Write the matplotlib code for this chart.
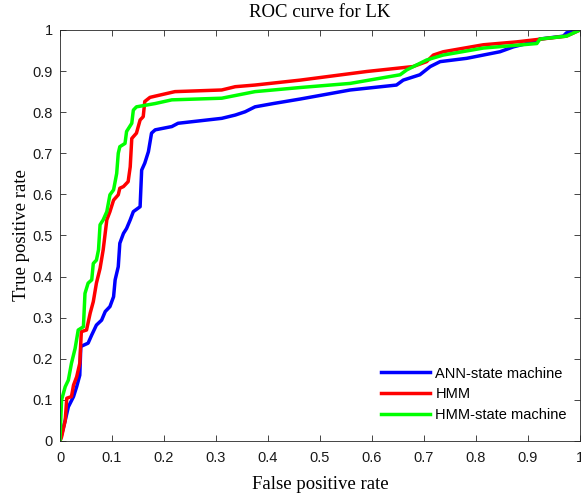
import matplotlib.pyplot as plt

# ROC points (false positive rate, true positive rate)
ann_fpr = [0, 0.003, 0.01, 0.016, 0.026, 0.032, 0.038, 0.040, 0.054, 0.061, 0.070, 0.080,
           0.087, 0.096, 0.103, 0.106, 0.112, 0.115, 0.122, 0.128, 0.135, 0.141, 0.154,
           0.157, 0.163, 0.170, 0.176, 0.183, 0.215, 0.227, 0.311, 0.337, 0.356, 0.375,
           0.41, 0.462, 0.558, 0.647, 0.660, 0.692, 0.712, 0.731, 0.782, 0.846, 0.872,
           0.910, 0.923, 0.968, 0.974, 1.0]
ann_tpr = [0, 0.015, 0.05, 0.083, 0.108, 0.132, 0.16, 0.23, 0.238, 0.258, 0.282, 0.294,
           0.315, 0.327, 0.351, 0.392, 0.424, 0.481, 0.505, 0.517, 0.538, 0.558, 0.570,
           0.659, 0.676, 0.704, 0.749, 0.757, 0.765, 0.773, 0.785, 0.793, 0.801, 0.813,
           0.821, 0.832, 0.854, 0.866, 0.878, 0.891, 0.911, 0.923, 0.931, 0.947, 0.959,
           0.971, 0.978, 0.985, 0.993, 1.0]

hmm_fpr = [0, 0.003, 0.01, 0.013, 0.022, 0.026, 0.032, 0.038, 0.041, 0.051, 0.058, 0.064,
           0.070, 0.077, 0.083, 0.090, 0.096, 0.103, 0.112, 0.115, 0.122, 0.131, 0.135,
           0.138, 0.147, 0.154, 0.160, 0.163, 0.173, 0.183, 0.221, 0.311, 0.337, 0.375,
           0.462, 0.59, 0.679, 0.705, 0.718, 0.737, 0.814, 0.878, 0.974, 1.0]
hmm_tpr = [0, 0.01, 0.05, 0.104, 0.108, 0.136, 0.156, 0.189, 0.266, 0.270, 0.311, 0.339,
           0.384, 0.420, 0.465, 0.538, 0.558, 0.586, 0.599, 0.615, 0.619, 0.631, 0.667,
           0.736, 0.749, 0.781, 0.789, 0.826, 0.836, 0.839, 0.850, 0.854, 0.862, 0.866,
           0.878, 0.899, 0.911, 0.923, 0.939, 0.947, 0.964, 0.971, 0.985, 1.0]

hsm_fpr = [0, 0.0, 0.003, 0.01, 0.016, 0.022, 0.029, 0.035, 0.045, 0.048, 0.054, 0.061,
           0.064, 0.070, 0.074, 0.077, 0.083, 0.090, 0.096, 0.103, 0.109, 0.112, 0.115,
           0.125, 0.128, 0.138, 0.141, 0.147, 0.183, 0.215, 0.311, 0.343, 0.375, 0.462,
           0.558, 0.654, 0.667, 0.705, 0.737, 0.814, 0.917, 0.923, 0.974, 1.0]
hsm_tpr = [0, 0.007, 0.10, 0.132, 0.148, 0.189, 0.225, 0.270, 0.278, 0.359, 0.384, 0.392,
           0.432, 0.440, 0.465, 0.526, 0.538, 0.558, 0.599, 0.611, 0.651, 0.700, 0.716,
           0.724, 0.753, 0.773, 0.805, 0.813, 0.821, 0.830, 0.834, 0.842, 0.850, 0.860,
           0.870, 0.891, 0.903, 0.927, 0.939, 0.956, 0.967, 0.978, 0.985, 1.0]

ticks = [0, 0.1, 0.2, 0.3, 0.4, 0.5, 0.6, 0.7, 0.8, 0.9, 1]
tick_labels = ['0', '0.1', '0.2', '0.3', '0.4', '0.5', '0.6', '0.7', '0.8', '0.9', '1']

fig = plt.figure(figsize=(5.81, 4.93), dpi=100)
ax = fig.add_axes([0.1033, 0.1055, 0.895, 0.8337])

ax.plot(ann_fpr, ann_tpr, color=(0, 0, 1), lw=2.5, label='ANN-state machine')
ax.plot(hmm_fpr, hmm_tpr, color=(1, 0, 0), lw=2.5, label='HMM')
ax.plot(hsm_fpr, hsm_tpr, color=(0, 1, 0), lw=2.5, label='HMM-state machine')

ax.set_xlim(0, 1)
ax.set_ylim(0, 1)
ax.set_xticks(ticks)
ax.set_xticklabels(tick_labels)
ax.set_yticks(ticks)
ax.set_yticklabels(tick_labels)
for lab in ax.get_xticklabels() + ax.get_yticklabels():
    lab.set_family('Liberation Sans')
ax.tick_params(direction='in', top=True, right=True, length=4, width=0.6,
               colors='#262626', labelsize=10.5, labelcolor='#1a1a1a')
ax.tick_params(axis='x', pad=7)
ax.tick_params(axis='y', pad=5)
for sp in ax.spines.values():
    sp.set_color('#262626')
    sp.set_linewidth(0.6)

ax.set_title('ROC curve for LK', family='Liberation Serif', fontsize=13.5, pad=9)
ax.set_xlabel('False positive rate', family='Liberation Serif', fontsize=13.5, labelpad=8)
ax.set_ylabel('True positive rate', family='Liberation Serif', fontsize=13.5, labelpad=2)

ax.legend(loc='lower right', frameon=False, prop={'family': 'Liberation Sans', 'size': 10.5},
          handlelength=3.3, handletextpad=0.4, labelspacing=0.45,
          bbox_to_anchor=(1.0, 0.015))

fig.savefig('out.png', dpi=100)
